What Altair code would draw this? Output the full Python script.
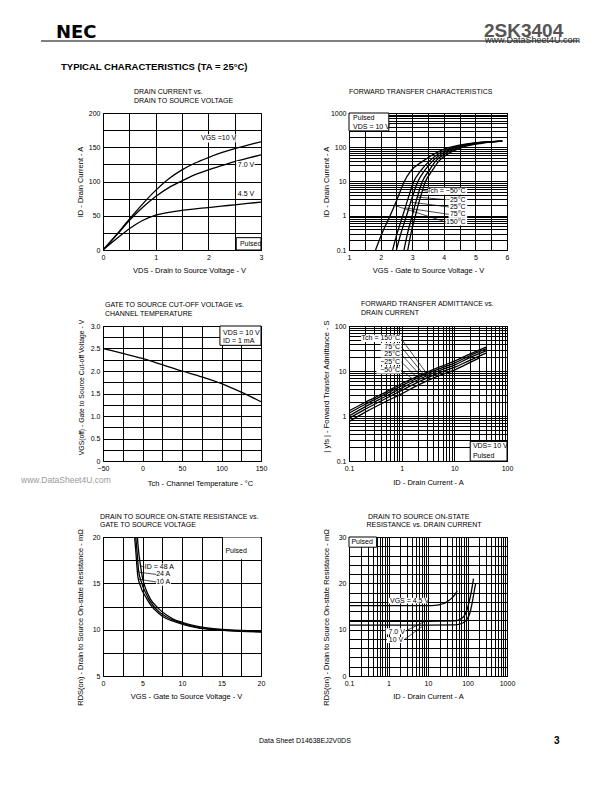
import altair as alt
import pandas as pd

FONT = "Liberation Sans"

# ---------------- Panel 1: drain current vs drain-to-source voltage ----------------
P1_VDS = [0, 0.25, 0.5, 0.75, 1.0, 1.25, 1.5, 1.75, 2.0, 2.25, 2.5, 2.75, 3.0]
P1_ID_10V = [0, 22, 45, 67, 87, 104, 117, 127, 135, 142, 148, 153, 158]
P1_ID_7V = [0, 21, 43, 62, 78, 91, 101, 110, 117, 123, 129, 134, 139]
P1_ID_45V = [0, 16, 31, 43, 51, 55, 58, 60, 62, 64, 66, 68, 70]
P1_LABELS = ["VGS =10 V", "7.0 V", "4.5 V"]
P1_LABEL_X = [1.86, 2.56, 2.56]
P1_LABEL_Y = [163, 124, 82]
P1_BG_X = [1.83, 2.53, 2.53]
P1_BG_X2 = [2.52, 2.88, 2.88]
P1_BG_Y = [157, 118, 76]
P1_BG_Y2 = [169, 130, 88]
P1_BOX = [2.53, 3.0, 0, 18]          # x, x2, y, y2
P1_BOX_TEXT = ("Pulsed", 2.6, 9)

# ---------------- Panel 2: forward transfer characteristics ----------------
P2_ID = [0.1, 0.3, 1, 3, 10, 20, 40, 70, 100, 130, 150]
P2_VGS_M50 = [2.86, 2.96, 3.10, 3.24, 3.42, 3.62, 3.85, 4.20, 4.60, 5.20, 5.85]
P2_VGS_M25 = [2.74, 2.85, 3.00, 3.14, 3.32, 3.52, 3.75, 4.10, 4.50, 5.10, 5.85]
P2_VGS_25 = [2.50, 2.64, 2.82, 2.98, 3.18, 3.38, 3.65, 4.00, 4.40, 5.00, 5.85]
P2_VGS_75 = [2.38, 2.52, 2.70, 2.86, 3.05, 3.26, 3.55, 3.90, 4.30, 4.90, 5.85]
P2_ID_150 = [0.1, 0.3, 1, 3, 10, 20, 40, 80, 115, 140, 150]
P2_VGS_150 = [1.84, 2.04, 2.30, 2.52, 2.75, 2.95, 3.35, 3.90, 4.50, 5.20, 5.85]
P2_LABELS = ["Tch = \u221250\u00b0C", "\u221225\u00b0C", "25\u00b0C", "75\u00b0C", "150\u00b0C"]
P2_LABEL_X = 4.69
P2_LABEL_Y = [5.2, 2.95, 1.8, 1.1, 0.66]
P2_BG_X = [3.50, 4.05, 4.15, 4.15, 4.05]
P2_LEAD_X = [3.52, 4.06, 4.16, 4.16, 4.06]
P2_LEAD_X2 = [3.33, 3.16, 2.95, 2.78, 2.44]
P2_LEAD_Y2 = [5.5, 3.5, 2.5, 1.7, 2.0]
P2_BOX = [1.0, 2.26, 300, 1000]
P2_BOX_TEXT = ["Pulsed", "VDS = 10 V"]
P2_BOX_TEXT_Y = [716, 393]

# ---------------- Panel 3: gate cut-off voltage vs channel temperature ----------------
P3_T = [-50, -25, 0, 25, 50, 75, 100, 125, 150]
P3_V = [2.50, 2.39, 2.28, 2.14, 2.00, 1.87, 1.72, 1.53, 1.32]
P3_BOX = [98, 150, 2.57, 3.0]
P3_BOX_TEXT = ["VDS = 10 V", "ID = 1 mA"]
P3_BOX_TEXT_Y = [2.845, 2.675]

# ---------------- Panel 4: forward transfer admittance vs drain current ----------------
P4_ID = [0.1, 0.2, 0.5, 1, 2, 5, 10, 20, 40]
P4_YFS_M50 = [1.3, 2.0, 3.4, 5.2, 7.6, 12.0, 16.5, 24.0, 34.0]
P4_YFS_M25 = [1.15, 1.8, 3.1, 4.7, 7.0, 11.0, 15.0, 22.0, 31.0]
P4_YFS_25 = [1.0, 1.6, 2.75, 4.2, 6.3, 10.0, 13.5, 20.0, 28.0]
P4_YFS_75 = [0.88, 1.4, 2.45, 3.7, 5.6, 9.0, 12.0, 17.5, 25.0]
P4_ID_150 = [0.1, 0.2, 0.5, 1, 2, 5, 10, 20, 30]
P4_YFS_150 = [0.75, 1.2, 2.1, 3.1, 4.8, 7.8, 10.5, 15.5, 19.5]
P4_LABELS = ["Tch = 150\u00b0C", "75\u00b0C", "25\u00b0C", "\u221225\u00b0C", "\u221250\u00b0C"]
P4_LABEL_X = 0.93
P4_LABEL_Y = [53, 35, 24, 16.2, 10.5]
P4_BG_X = [0.17, 0.40, 0.40, 0.33, 0.33]
P4_LEAD_X2 = [3.6, 3.0, 2.5, 2.0, 1.6]
P4_LEAD_Y2 = [6.55, 6.9, 7.05, 7.0, 6.7]
P4_BOX = [20, 100, 0.1, 0.272]
P4_BOX_TEXT = ["VDS= 10 V", "Pulsed"]
P4_BOX_TEXT_Y = [0.221, 0.128]

# ---------------- Panel 5: on-state resistance vs gate voltage ----------------
P5_VGS_48 = [4.35, 4.5, 4.75, 5.0, 5.5, 6.0, 7.0, 8.0, 9.0, 10.0, 12.0, 14.0, 16.0, 20.0]
P5_R_48 = [20.0, 18.5, 16.9, 15.6, 14.2, 13.3, 12.3, 11.6, 11.1, 10.8, 10.35, 10.1, 9.98, 9.85]
P5_VGS_24 = [4.15, 4.3, 4.5, 4.8, 5.5, 6.0, 7.0, 8.0, 9.0, 10.0, 12.0, 14.0, 16.0, 20.0]
P5_R_24 = [20.0, 18.5, 16.4, 15.3, 13.8, 13.0, 12.0, 11.4, 11.0, 10.7, 10.25, 10.05, 9.93, 9.8]
P5_VGS_10 = [4.0, 4.15, 4.4, 4.7, 5.5, 6.0, 7.0, 8.0, 9.0, 10.0, 12.0, 14.0, 16.0, 20.0]
P5_R_10 = [20.0, 18.5, 15.8, 14.8, 13.4, 12.7, 11.8, 11.2, 10.9, 10.6, 10.2, 10.0, 9.88, 9.75]
P5_LABELS = ["ID = 48 A", "24 A", "10 A"]
P5_LABEL_X = [5.3, 8.5, 8.5]
P5_LABEL_Y = [16.75, 15.96, 15.14]
P5_BG_X = [5.2, 6.7, 6.7]
P5_BG_X2 = [8.6, 8.6, 8.6]
P5_LEAD_X = [5.25, 6.75, 6.75]
P5_LEAD_X2 = [4.75, 4.55, 4.5]
P5_LEAD_Y2 = [16.9, 16.2, 15.45]
P5_PULSED = ("Pulsed", 15.5, 18.5)
P5_PULSED_BG = [15.2, 19.9, 17.6, 19.95]

# ---------------- Panel 6: on-state resistance vs drain current ----------------
P6_ID_45 = [0.1, 1, 10, 15, 20, 25, 30, 40, 50, 55]
P6_R_45 = [15.2, 15.2, 15.2, 15.25, 15.4, 15.65, 16.0, 16.8, 17.8, 18.3]
P6_ID_7 = [0.1, 1, 10, 50, 70, 87, 100, 110, 125, 142]
P6_R_7 = [11.8, 11.8, 11.8, 11.9, 12.4, 13.3, 14.6, 16.0, 18.2, 21.0]
P6_ID_10 = [0.1, 1, 10, 50, 78, 100, 115, 135, 150, 162]
P6_R_10 = [11.0, 11.0, 11.0, 11.05, 11.5, 12.4, 13.6, 16.3, 18.6, 20.0]
P6_LABELS = ["VGS = 4.5 V", "7.0 V", "10 V"]
P6_LABEL_X = [1.09, 2.6, 2.35]
P6_LABEL_Y = [16.2, 9.6, 7.7]
P6_BG = [[1.0, 9.8, 15.65, 16.9], [0.85, 2.75, 9.0, 10.3], [0.9, 2.5, 7.1, 8.4]]
P6_LEAD = [[2.7, 9.7, 8.4, 11.8], [2.45, 7.8, 7.7, 10.9]]
P6_BOX = [0.1, 0.5, 27.8, 30]
P6_BOX_TEXT = ("Pulsed", 0.115, 28.9)

# ---------------- layout sizes ----------------
W = 158
H1, H2, H3 = 137, 135, 139


def log_ticks(lo, hi):
    vals = []
    for e in range(lo, hi):
        for m in range(1, 10):
            vals.append(round(m * 10.0 ** e, 6))
    vals.append(round(10.0 ** hi, 6))
    return vals


def frange(a, b, step):
    out, v = [], a
    while v <= b + 1e-9:
        out.append(round(v, 6))
        v += step
    return out


LOG_LABEL = "indexof(['0.1','1','10','100','1000'], datum.label) >= 0 ? datum.label : ''"
INT_LABEL = "datum.value % 1 == 0 ? format(datum.value, 'd') : ''"


def scale(domain, log):
    if log:
        return alt.Scale(type="log", domain=domain, nice=False)
    return alt.Scale(domain=domain, nice=False, zero=False)


def xenc(domain, values, expr, title, log=False, fmt=None, title_x=None, pad=6):
    ax = dict(values=values, labelExpr=expr, title=title, grid=True, titlePadding=pad)
    if fmt:
        ax["format"] = fmt
    if title_x is not None:
        ax["titleX"] = title_x
    return alt.X("x:Q", scale=scale(domain, log), axis=alt.Axis(**ax))


def yenc(domain, values, expr, title, log=False, fmt=None, title_y=None, title_size=None):
    ax = dict(values=values, labelExpr=expr, title=title, grid=True)
    if fmt:
        ax["format"] = fmt
    if title_y is not None:
        ax["titleY"] = title_y
    if title_size is not None:
        ax["titleFontSize"] = title_size
    return alt.Y("y:Q", scale=scale(domain, log), axis=alt.Axis(**ax))


def long_df(xs_list, ys_list, names):
    rows = []
    for xs, ys, n in zip(xs_list, ys_list, names):
        for a, b in zip(xs, ys):
            rows.append({"x": a, "y": b, "s": n})
    return pd.DataFrame(rows)


def curves(df, xe, ye):
    return alt.Chart(df).mark_line(color="black", strokeWidth=1.3, clip=True,
                                   interpolate="monotone").encode(x=xe, y=ye, detail="s:N")


def rects(df, xe, ye, stroke=False):
    kw = dict(fill="white")
    if stroke:
        kw.update(stroke="black", strokeWidth=1)
    return alt.Chart(df).mark_rect(**kw).encode(x=xe, x2=alt.X2("x2"), y=ye, y2=alt.Y2("y2"))


def leaders(df, xe, ye):
    return alt.Chart(df).mark_rule(color="black", strokeWidth=0.7).encode(
        x=xe, y=ye, x2=alt.X2("x2"), y2=alt.Y2("y2"))


def dtext(df, xe, ye, align="left", size=7):
    return alt.Chart(df).mark_text(align=align, baseline="middle", font=FONT, fontSize=size,
                                   color="black").encode(x=xe, y=ye, text="t:N")


def ptext(s, x, y, size=7, weight="normal", align="left", color="black", font=FONT,
          baseline="middle"):
    return alt.Chart(pd.DataFrame({"t": [s]})).mark_text(
        align=align, baseline=baseline, font=font, fontSize=size, fontWeight=weight,
        color=color).encode(x=alt.value(x), y=alt.value(y), text="t:N")


# ================= Panel 1 =================
x1 = xenc([0, 3], frange(0, 3, 0.5), INT_LABEL,
          "VDS -  Drain to Source Voltage - V", title_x=86)
y1 = yenc([0, 200], frange(0, 200, 25), "datum.value % 50 == 0 ? datum.label : ''",
          "ID  -  Drain Current  -  A")
d1 = long_df([P1_VDS] * 3, [P1_ID_10V, P1_ID_7V, P1_ID_45V], ["10 V", "7.0 V", "4.5 V"])
bg1 = pd.DataFrame({"x": P1_BG_X, "x2": P1_BG_X2, "y": P1_BG_Y, "y2": P1_BG_Y2})
lb1 = pd.DataFrame({"x": P1_LABEL_X, "y": P1_LABEL_Y, "t": P1_LABELS})
box1 = pd.DataFrame({"x": [P1_BOX[0]], "x2": [P1_BOX[1]], "y": [P1_BOX[2]], "y2": [P1_BOX[3]]})
bt1 = pd.DataFrame({"x": [P1_BOX_TEXT[1]], "y": [P1_BOX_TEXT[2]], "t": [P1_BOX_TEXT[0]]})

anchor = alt.Chart(pd.DataFrame({"a": [0]})).mark_rect(opacity=0).encode(
    x=alt.value(-94), x2=alt.value(-93), y=alt.value(-104), y2=alt.value(-103))
header_line = alt.Chart(pd.DataFrame({"a": [0]})).mark_rule(color="black", strokeWidth=1).encode(
    x=alt.value(-62), x2=alt.value(476), y=alt.value(-72))

p1 = alt.layer(
    curves(d1, x1, y1),
    rects(bg1, x1, y1),
    dtext(lb1, x1, y1),
    rects(box1, x1, y1, stroke=True),
    dtext(bt1, x1, y1),
    ptext("DRAIN CURRENT vs.", 31, -21),
    ptext("DRAIN TO SOURCE VOLTAGE", 31, -12.5),
    anchor,
    header_line,
    ptext("NEC", -47, -75.5, size=18, weight="bold", font="DejaVu Sans", baseline="alphabetic"),
    ptext("2SK3404", 381, -76, size=19, weight="bold", color="#555555", baseline="alphabetic"),
    ptext("www.DataSheet4U.com", 382, -70, size=9, color="#222222", baseline="alphabetic"),
    ptext("TYPICAL CHARACTERISTICS (TA = 25\u00b0C)", -42, -46, size=9.5, weight="bold"),
    ptext("www.DataSheet4U.com", -82, 367, size=8.5, color="#9a9a9a"),
    ptext("Data Sheet  D14638EJ2V0DS", 156, 628, size=7),
    ptext("3", 451, 628, size=10, weight="bold"),
).properties(width=W, height=H1)

# ================= Panel 2 =================
x2 = xenc([1, 6], frange(1, 6, 0.5), INT_LABEL,
          "VGS -  Gate to Source Voltage -  V")
y2 = yenc([0.1, 1000], log_ticks(-1, 3), LOG_LABEL, "ID  -  Drain Current  -  A",
          log=True, fmt="~g")
d2 = long_df([P2_VGS_M50, P2_VGS_M25, P2_VGS_25, P2_VGS_75, P2_VGS_150],
             [P2_ID, P2_ID, P2_ID, P2_ID, P2_ID_150], ["-50", "-25", "25", "75", "150"])
bg2 = pd.DataFrame({"x": P2_BG_X, "x2": [P2_LABEL_X + 0.05] * 5,
                    "y": [v / 1.27 for v in P2_LABEL_Y], "y2": [v * 1.27 for v in P2_LABEL_Y]})
lb2 = pd.DataFrame({"x": [P2_LABEL_X] * 5, "y": P2_LABEL_Y, "t": P2_LABELS})
ld2 = pd.DataFrame({"x": P2_LEAD_X, "y": P2_LABEL_Y, "x2": P2_LEAD_X2, "y2": P2_LEAD_Y2})
box2 = pd.DataFrame({"x": [P2_BOX[0]], "x2": [P2_BOX[1]], "y": [P2_BOX[2]], "y2": [P2_BOX[3]]})
bt2 = pd.DataFrame({"x": [1.13, 1.13], "y": P2_BOX_TEXT_Y, "t": P2_BOX_TEXT})

p2 = alt.layer(
    curves(d2, x2, y2),
    rects(bg2, x2, y2),
    leaders(ld2, x2, y2),
    dtext(lb2, x2, y2, align="right"),
    rects(box2, x2, y2, stroke=True),
    dtext(bt2, x2, y2),
    ptext("FORWARD TRANSFER CHARACTERISTICS", 0, -21),
).properties(width=W, height=H1)

# ================= Panel 3 =================
x3 = xenc([-50, 150], frange(-50, 150, 25), "datum.value % 50 == 0 ? datum.label : ''",
          "Tch  -  Channel Temperature  -  \u00b0C", title_x=97, pad=8)
y3 = yenc([0, 3], frange(0, 3, 0.25),
          "datum.value == 0 ? '0' : ((datum.value * 2) % 1 == 0 ? format(datum.value, '.1f') : '')",
          "VGS(off)  -  Gate to Source Cut-off Voltage - V", title_y=61, title_size=6.8)
d3 = long_df([P3_T], [P3_V], ["vth"])
box3 = pd.DataFrame({"x": [P3_BOX[0]], "x2": [P3_BOX[1]], "y": [P3_BOX[2]], "y2": [P3_BOX[3]]})
bt3 = pd.DataFrame({"x": [101.9, 101.9], "y": P3_BOX_TEXT_Y, "t": P3_BOX_TEXT})

p3 = alt.layer(
    curves(d3, x3, y3),
    rects(box3, x3, y3, stroke=True),
    dtext(bt3, x3, y3),
    ptext("GATE TO SOURCE CUT-OFF VOLTAGE vs.", 2, -21),
    ptext("CHANNEL TEMPERATURE", 2, -12.5),
).properties(width=W, height=H2)

# ================= Panel 4 =================
x4 = xenc([0.1, 100], log_ticks(-1, 2), LOG_LABEL, "ID  -  Drain Current  -  A",
          log=True, fmt="~g", pad=7)
y4 = yenc([0.1, 100], log_ticks(-1, 2), LOG_LABEL,
          "| yfs |  -  Forward Transfer Admittance  -  S", log=True, fmt="~g", title_y=60)
d4 = long_df([P4_ID, P4_ID, P4_ID, P4_ID, P4_ID_150],
             [P4_YFS_M50, P4_YFS_M25, P4_YFS_25, P4_YFS_75, P4_YFS_150],
             ["-50", "-25", "25", "75", "150"])
bg4 = pd.DataFrame({"x": P4_BG_X, "x2": [0.98] * 5,
                    "y": [v / 1.2 for v in P4_LABEL_Y], "y2": [v * 1.2 for v in P4_LABEL_Y]})
lb4 = pd.DataFrame({"x": [P4_LABEL_X] * 5, "y": P4_LABEL_Y, "t": P4_LABELS})
ld4 = pd.DataFrame({"x": [0.97] * 5, "y": P4_LABEL_Y, "x2": P4_LEAD_X2, "y2": P4_LEAD_Y2})
box4 = pd.DataFrame({"x": [P4_BOX[0]], "x2": [P4_BOX[1]], "y": [P4_BOX[2]], "y2": [P4_BOX[3]]})
bt4 = pd.DataFrame({"x": [22.5, 22.5], "y": P4_BOX_TEXT_Y, "t": P4_BOX_TEXT})

p4 = alt.layer(
    curves(d4, x4, y4),
    leaders(ld4, x4, y4),
    rects(bg4, x4, y4),
    dtext(lb4, x4, y4, align="right"),
    rects(box4, x4, y4, stroke=True),
    dtext(bt4, x4, y4),
    ptext("FORWARD TRANSFER ADMITTANCE vs.", 12, -22),
    ptext("DRAIN CURRENT", 12, -13.5),
).properties(width=W, height=H2)

# ================= Panel 5 =================
x5 = xenc([0, 20], frange(0, 20, 2.5), "datum.value % 5 == 0 ? format(datum.value, 'd') : ''",
          "VGS -  Gate to Source Voltage  - V", title_x=83)
y5 = yenc([5, 20], frange(5, 20, 2.5), "datum.value % 5 == 0 ? format(datum.value, 'd') : ''",
          "RDS(on)  -  Drain to Source On-state Resistance  -  m\u03a9", title_y=80)
d5 = long_df([P5_VGS_48, P5_VGS_24, P5_VGS_10], [P5_R_48, P5_R_24, P5_R_10],
             ["48 A", "24 A", "10 A"])
bg5 = pd.DataFrame({"x": P5_BG_X, "x2": P5_BG_X2,
                    "y": [v - 0.4 for v in P5_LABEL_Y], "y2": [v + 0.4 for v in P5_LABEL_Y]})
ld5 = pd.DataFrame({"x": P5_LEAD_X, "y": P5_LABEL_Y, "x2": P5_LEAD_X2, "y2": P5_LEAD_Y2})
lb5l = pd.DataFrame({"x": P5_LABEL_X[:1], "y": P5_LABEL_Y[:1], "t": P5_LABELS[:1]})
lb5r = pd.DataFrame({"x": P5_LABEL_X[1:], "y": P5_LABEL_Y[1:], "t": P5_LABELS[1:]})
pbg5 = pd.DataFrame({"x": [P5_PULSED_BG[0]], "x2": [P5_PULSED_BG[1]],
                     "y": [P5_PULSED_BG[2]], "y2": [P5_PULSED_BG[3]]})
pt5 = pd.DataFrame({"x": [P5_PULSED[1]], "y": [P5_PULSED[2]], "t": [P5_PULSED[0]]})

p5 = alt.layer(
    curves(d5, x5, y5),
    rects(bg5, x5, y5),
    leaders(ld5, x5, y5),
    dtext(lb5l, x5, y5),
    dtext(lb5r, x5, y5, align="right"),
    rects(pbg5, x5, y5),
    dtext(pt5, x5, y5),
    ptext("DRAIN TO SOURCE ON-STATE RESISTANCE vs.", -3, -20),
    ptext("GATE TO SOURCE VOLTAGE", -3, -12),
).properties(width=W, height=H3)

# ================= Panel 6 =================
x6 = xenc([0.1, 1000], log_ticks(-1, 3), LOG_LABEL, "ID  -  Drain Current  -  A",
          log=True, fmt="~g")
y6 = yenc([0, 30], frange(0, 30, 2), "datum.value % 10 == 0 ? format(datum.value, 'd') : ''",
          "RDS(on)  -  Drain to Source On-state Resistance  -  m\u03a9", title_y=80)
d6 = long_df([P6_ID_45, P6_ID_7, P6_ID_10], [P6_R_45, P6_R_7, P6_R_10],
             ["4.5 V", "7.0 V", "10 V"])
bg6 = pd.DataFrame({"x": [b[0] for b in P6_BG], "x2": [b[1] for b in P6_BG],
                    "y": [b[2] for b in P6_BG], "y2": [b[3] for b in P6_BG]})
ld6 = pd.DataFrame({"x": [l[0] for l in P6_LEAD], "y": [l[1] for l in P6_LEAD],
                    "x2": [l[2] for l in P6_LEAD], "y2": [l[3] for l in P6_LEAD]})
lb6l = pd.DataFrame({"x": P6_LABEL_X[:1], "y": P6_LABEL_Y[:1], "t": P6_LABELS[:1]})
lb6r = pd.DataFrame({"x": P6_LABEL_X[1:], "y": P6_LABEL_Y[1:], "t": P6_LABELS[1:]})
box6 = pd.DataFrame({"x": [P6_BOX[0]], "x2": [P6_BOX[1]], "y": [P6_BOX[2]], "y2": [P6_BOX[3]]})
bt6 = pd.DataFrame({"x": [P6_BOX_TEXT[1]], "y": [P6_BOX_TEXT[2]], "t": [P6_BOX_TEXT[0]]})

p6 = alt.layer(
    curves(d6, x6, y6),
    rects(bg6, x6, y6),
    leaders(ld6, x6, y6),
    dtext(lb6l, x6, y6),
    dtext(lb6r, x6, y6, align="right"),
    rects(box6, x6, y6, stroke=True),
    dtext(bt6, x6, y6),
    ptext("DRAIN TO SOURCE ON-STATE", 19, -20.5),
    ptext("RESISTANCE vs. DRAIN CURRENT", 17.5, -12.5),
).properties(width=W, height=H3)

chart = alt.concat(
    p1, p2, p3, p4, p5, p6,
    columns=2,
    spacing={"row": 76, "column": 88},
    bounds="flush",
    align="each",
    padding=0,
).configure_view(
    stroke="black", strokeWidth=1
).configure_axis(
    labelFont=FONT, labelFontSize=7, labelColor="black", labelPadding=3,
    labelFlush=False, labelOverlap=False,
    titleFont=FONT, titleFontSize=7.5, titleFontWeight="normal", titleColor="black",
    gridColor="black", gridWidth=1, gridOpacity=1,
    ticks=False, domain=False,
).configure_axisY(
    minExtent=15, maxExtent=15, titlePadding=4
)

chart.save("out.html", embed_options={"renderer": "svg", "actions": False})
